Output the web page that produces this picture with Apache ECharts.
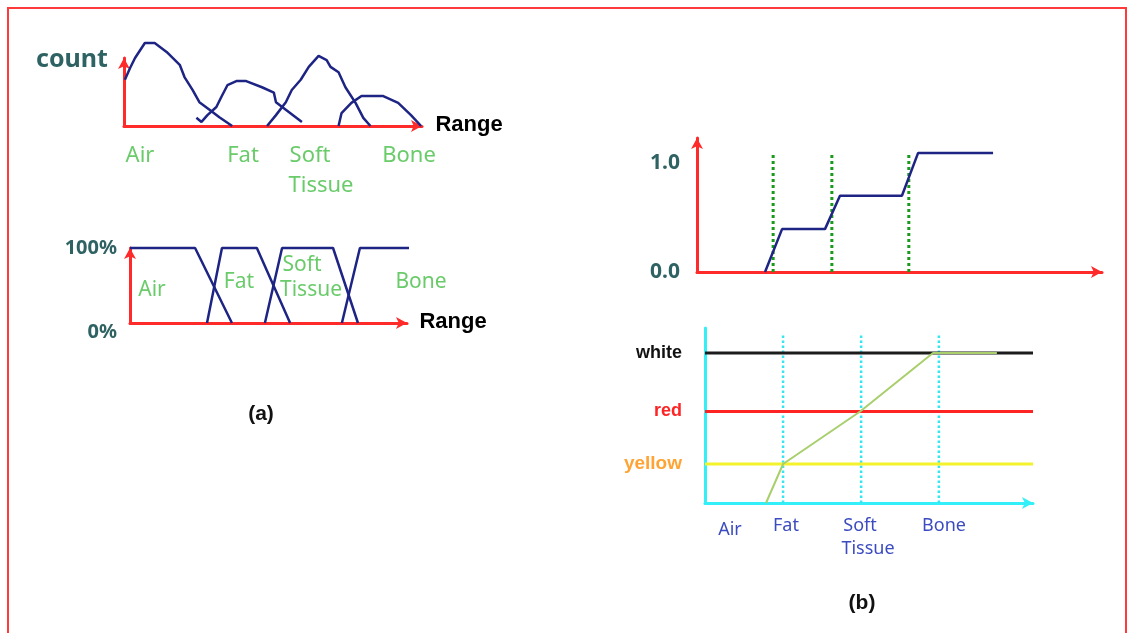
<!DOCTYPE html>
<html>
<head>
<meta charset="utf-8">
<script src="https://cdn.jsdelivr.net/npm/echarts@6/dist/echarts.min.js"></script>
<style>
  html, body { margin: 0; padding: 0; background: #fff; }
  #chart { width: 1127px; height: 633px; }
</style>
</head>
<body>
<div id="chart"></div>
<script>
// (a) top: histogram of counts over the range, one hand-drawn hump per tissue
const histAir = [[0.3, 68], [2, 85], [3.7, 100], [7, 122], [10.3, 122], [14.3, 109], [18.7, 90], [20.3, 72], [23, 53], [25.3, 35], [28.7, 24], [32, 13], [36.3, 0]]
const histFat = [[24.3, 12], [26, 6], [28, 16], [31, 28], [32.7, 43], [34.7, 60], [37.7, 66], [41, 66], [46.3, 57], [50.3, 49], [51, 35], [54.3, 24], [59.7, 6]]
const histSoft = [[48, 0], [51, 16], [54.3, 35], [56.3, 53], [59.3, 68], [62, 87], [65.3, 103], [68, 97], [69.3, 87], [72, 79], [74.3, 57], [77.7, 34], [80.3, 12], [82.7, 0]]
const histBone = [[72, 0], [73, 19], [76.3, 34], [79.7, 44], [87, 44], [92, 34], [96.3, 16], [99.7, 0]]

// (a) bottom: trapezoid membership (%)
const memAir = [[0, 100], [23.5, 100], [36.8, 0]]
const memFat = [[27.8, 0], [33.2, 100], [45.8, 100], [57.8, 0]]
const memSoft = [[48.7, 0], [54.9, 100], [73.3, 100], [82.3, 0]]
const memBone = [[76.5, 0], [83, 100], [106.5, 100]]

// (b) top: opacity step function and tissue boundaries
const opacityStep = [[16.8, 0], [21, 0.36], [31.6, 0.36], [35.3, 0.64], [50.6, 0.64], [54.6, 1], [73.1, 1]]
const opacityMarks = [18.8, 33.3, 52.3]

// (b) bottom: colour levels and colour ramp
const colorNames = ["yellow", "red", "white"]
const colorValues = [0.26, 0.61, 1.0]
const colorRamp = [[18.6, 0], [23.8, 0.26], [47.3, 0.61], [69.5, 1], [89, 1]]
const colorMarks = [23.8, 47.6, 71.3]

const navy = "#1e2484"
const green = "#6acb6a"
const teal = "#2f6262"
const blueText = "#3c4cc0"
const lineColors = { yellow: "#f4f22a", red: "#ff2424", white: "#1c1c1c" }
const labelColors = { yellow: "#ffa434", red: "#ff2424", white: "#111111" }
const labelSizes = { yellow: 19, red: 18, white: 18 }

const chart = echarts.init(document.getElementById("chart"))

function axisLine(color, arrow) {
  return {
    show: true,
    lineStyle: { color: color, width: 3 },
    symbol: arrow ? ["none", "arrow"] : "none",
    symbolSize: [9, 11],
  }
}

function plainAxis(extra) {
  return Object.assign({
    type: "value",
    axisTick: { show: false },
    axisLabel: { show: false },
    splitLine: { show: false },
  }, extra)
}

function curve(data, xi, color, width, type) {
  return {
    type: "line",
    data: data,
    xAxisIndex: xi,
    yAxisIndex: xi,
    symbol: "none",
    clip: false,
    silent: true,
    lineStyle: { color: color, width: width, type: type || "solid" },
  }
}

const series = []
;[histAir, histFat, histSoft, histBone].forEach(d => series.push(curve(d, 0, navy, 2.5)))
;[memAir, memFat, memSoft, memBone].forEach(d => series.push(curve(d, 1, navy, 2.5)))
opacityMarks.forEach(x => series.push(curve([[x, 0], [x, 1]], 2, "#1a9a1a", 3, "dotted")))
series.push(curve(opacityStep, 2, navy, 2.5))
colorMarks.forEach(x => series.push(curve([[x, 0], [x, 1.133]], 3, "#33e6f0", 2.5, "dotted")))
colorNames.forEach((name, i) => {
  series.push({
    type: "line",
    xAxisIndex: 3,
    yAxisIndex: 3,
    symbol: "circle",
    symbolSize: 0,
    clip: false,
    silent: true,
    lineStyle: { color: lineColors[name], width: 3 },
    data: [
      {
        value: [0, colorValues[i]],
        label: {
          show: true,
          position: "left",
          distance: 23,
          formatter: name,
          color: labelColors[name],
          fontFamily: "Liberation Sans",
          fontWeight: "bold",
          fontSize: labelSizes[name],
        },
      },
      [100, colorValues[i]],
    ],
  })
})
series.push(curve(colorRamp, 3, "#a8cf6c", 2))

function txt(x, y, text, color, size, font, weight) {
  return {
    type: "text",
    x: x,
    y: y,
    style: {
      text: text,
      fill: color,
      font: (weight || "normal") + " " + size + "px " + (font || "Noto Sans"),
      textAlign: "center",
      textVerticalAlign: "middle",
    },
  }
}

const graphic = [
  {
    type: "rect",
    shape: { x: 8, y: 8, width: 1118, height: 640 },
    style: { fill: "none", stroke: "#ff3a3a", lineWidth: 2 },
    silent: true,
  },
  txt(72, 60, "count", teal, 25, "Noto Sans", "bold"),
  txt(469, 125, "Range", "#000", 22, "Liberation Sans", "bold"),
  txt(140, 156, "Air", green, 22),
  txt(243, 156, "Fat", green, 22),
  txt(310, 156, "Soft", green, 22),
  txt(321, 186, "Tissue", green, 22),
  txt(409, 156, "Bone", green, 22),
  txt(453, 322, "Range", "#000", 22, "Liberation Sans", "bold"),
  txt(152, 290, "Air", green, 21),
  txt(239, 282, "Fat", green, 21),
  txt(302, 265, "Soft", green, 21),
  txt(311, 290, "Tissue", green, 21),
  txt(421, 282, "Bone", green, 21),
  txt(261, 414, "(a)", "#111", 21, "Liberation Sans", "bold"),
  txt(730, 530, "Air", blueText, 18),
  txt(786, 526, "Fat", blueText, 18),
  txt(860, 526, "Soft", blueText, 18),
  txt(868, 549, "Tissue", blueText, 18),
  txt(944, 526, "Bone", blueText, 18),
  txt(862, 603, "(b)", "#111", 21, "Liberation Sans", "bold"),
]

const option = {
  animation: false,
  backgroundColor: "#fff",
  grid: [
    { left: 124, top: 58, width: 298, height: 68 },
    { left: 130, top: 248, width: 277, height: 75 },
    { left: 697, top: 138, width: 405, height: 134 },
    { left: 705, top: 328, width: 328, height: 175 },
  ],
  xAxis: [
    plainAxis({ gridIndex: 0, min: 0, max: 100, axisLine: axisLine("#ff2a2a", true) }),
    plainAxis({ gridIndex: 1, min: 0, max: 100, axisLine: axisLine("#ff2a2a", true) }),
    plainAxis({ gridIndex: 2, min: 0, max: 100, axisLine: axisLine("#ff2a2a", true) }),
    plainAxis({ gridIndex: 3, min: 0, max: 100, axisLine: axisLine("#33f0f8", true) }),
  ],
  yAxis: [
    plainAxis({ gridIndex: 0, min: 0, max: 100, axisLine: axisLine("#ff2a2a", true) }),
    plainAxis({
      gridIndex: 1, min: 0, max: 100, interval: 100,
      axisLine: axisLine("#ff2a2a", true),
      axisLabel: {
        show: true,
        margin: 13,
        formatter: v => (v === 0 ? "{low|0%}" : v === 100 ? "{hi|100%}" : ""),
        rich: {
          low: { color: teal, fontSize: 20, fontWeight: "bold", fontFamily: "Noto Sans", padding: [18, 0, 0, 0] },
          hi: { color: teal, fontSize: 20, fontWeight: "bold", fontFamily: "Noto Sans" },
        },
      },
    }),
    plainAxis({
      gridIndex: 2, min: 0, max: 1.125, interval: 1,
      axisLine: axisLine("#ff2a2a", true),
      axisLabel: {
        show: true,
        margin: 17,
        formatter: v => (v === 0 ? "{low|0.0}" : v === 1 ? "{hi|1.0}" : ""),
        rich: {
          low: { color: teal, fontSize: 21, fontWeight: "bold", fontFamily: "Noto Sans" },
          hi: { color: teal, fontSize: 21, fontWeight: "bold", fontFamily: "Noto Sans", padding: [20, 0, 0, 0] },
        },
      },
    }),
    plainAxis({ gridIndex: 3, min: 0, max: 1.167, axisLine: axisLine("#33f0f8", false) }),
  ],
  graphic: graphic,
  series: series,
}

chart.setOption(option)
</script>
</body>
</html>
